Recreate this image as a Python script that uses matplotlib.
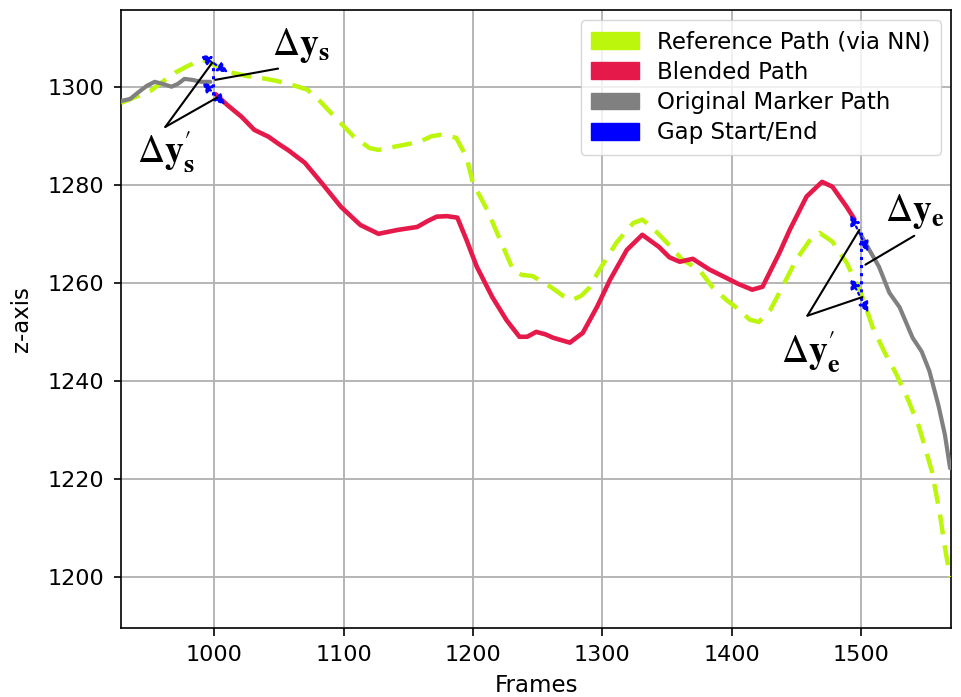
import matplotlib
matplotlib.use("Agg")
import matplotlib.pyplot as plt
from matplotlib.patches import Patch

# ============================================================
# DADOS
# ============================================================

ref_frames = [928, 940, 951, 960, 970, 980, 991, 1000, 1013, 1025, 1036, 1048,
              1060, 1072, 1082, 1093, 1108, 1120, 1127, 1140, 1150, 1159, 1168,
              1175, 1187, 1195, 1200, 1211, 1221, 1231, 1238, 1246, 1253, 1260,
              1270, 1277, 1284, 1290, 1298, 1311, 1324, 1331, 1339, 1350, 1362,
              1375, 1385, 1396, 1406, 1414, 1421, 1430, 1437, 1450, 1460, 1468,
              1478, 1489, 1500, 1509, 1518, 1527, 1536, 1545, 1555, 1561, 1565,
              1569]
ref_values = [1296.7, 1298.0, 1299.2, 1301.0, 1302.9, 1304.3, 1305.5, 1304.5,
              1302.9, 1302.2, 1301.8, 1301.2, 1300.4, 1299.4, 1297.0, 1293.9,
              1289.8, 1287.5, 1287.1, 1287.8, 1288.3, 1288.8, 1289.9, 1290.2,
              1289.6, 1285.7, 1280.4, 1274.9, 1268.8, 1262.7, 1261.6, 1261.4,
              1260.3, 1259.2, 1257.3, 1256.5, 1257.4, 1259.0, 1262.7, 1268.2,
              1272.2, 1272.9, 1271.2, 1268.2, 1264.7, 1262.7, 1259.2, 1256.5,
              1254.5, 1252.5, 1252.0, 1254.5, 1258.0, 1264.7, 1268.5, 1270.2,
              1268.4, 1264.1, 1258.0, 1251.0, 1246.0, 1241.6, 1236.5, 1230.6,
              1221.5, 1213.0, 1206.0, 1200.0]

blend_frames = [1001, 1010, 1021, 1031, 1042, 1050, 1057, 1070, 1083, 1098,
                1113, 1127, 1142, 1157, 1165, 1172, 1180, 1188, 1195, 1203,
                1215, 1226, 1236, 1242, 1249, 1256, 1262, 1275, 1285, 1296,
                1306, 1319, 1331, 1344, 1352, 1360, 1370, 1383, 1396, 1405,
                1416, 1424, 1437, 1445, 1458, 1470, 1478, 1489, 1495]
blend_values = [1298.5, 1296.3, 1293.9, 1291.2, 1289.8, 1288.3, 1287.1, 1284.5,
                1280.4, 1275.5, 1271.8, 1270.0, 1270.8, 1271.4, 1272.6, 1273.5,
                1273.6, 1273.3, 1268.8, 1263.3, 1257.1, 1252.4, 1249.0, 1249.0,
                1250.0, 1249.5, 1248.8, 1247.8, 1249.8, 1255.1, 1260.6, 1266.7,
                1269.8, 1267.3, 1265.2, 1264.3, 1264.9, 1262.7, 1261.0, 1259.8,
                1258.6, 1259.2, 1266.1, 1270.8, 1277.6, 1280.6, 1279.6, 1275.5,
                1273.0]

orig_frames_before = [928, 935, 941, 948, 954, 960, 967, 972, 977, 983, 990, 997]
orig_values_before = [1297.1, 1297.5, 1298.8, 1300.2, 1301.0, 1300.6, 1300.0,
                      1300.6, 1301.6, 1301.4, 1301.0, 1301.0]

orig_frames_after = [1500, 1507, 1514, 1522, 1530, 1540, 1547, 1553, 1560, 1565, 1569]
orig_values_after = [1269.8, 1266.5, 1263.3, 1258.0, 1255.0, 1248.8, 1246.0,
                     1242.0, 1235.0, 1229.0, 1222.2]

# marcadores do gap: frame, topo, base
gap_frames = [999, 1500]
gap_top = [1305.0, 1271.4]
gap_bottom = [1298.4, 1256.5]

# setas duplas (x1, y1, x2, y2)
gap_arrows = [
    (989.2, 1306.5, 1010.8, 1302.9),
    (990.7, 1301.0, 1008.5, 1296.3),
    (1491.9, 1273.9, 1505.8, 1266.3),
    (1491.9, 1261.0, 1505.8, 1253.9),
]

# rótulos: texto, posição do texto, início da linha, alvos
labels_text = [r"$\Delta\mathbf{y}_\mathbf{s}$",
               r"$\Delta\mathbf{y}_\mathbf{s}'$",
               r"$\Delta\mathbf{y}_\mathbf{e}$",
               r"$\Delta\mathbf{y}_\mathbf{e}'$"]
labels_pos = [(1067, 1308.4), (963, 1286.6), (1542, 1274.6), (1461, 1245.8)]
labels_line_start = [(1049.4, 1303.7), (962.2, 1291.8), (1541.3, 1269.6), (1458.7, 1253.3)]
labels_targets = [[(1000.8, 1301.4)],
                  [(998.5, 1304.9), (1002.3, 1297.8)],
                  [(1503.5, 1263.7)],
                  [(1498.8, 1270.8), (1501.2, 1257.1)]]

COR_REF = "#bcf60c"
COR_BLEND = "#e6194b"
COR_ORIG = "#808080"
COR_GAP = "#0000ff"

# ============================================================
# GRÁFICO
# ============================================================

plt.rcParams["mathtext.fontset"] = "stix"

fig = plt.figure(figsize=(9.61, 6.97), dpi=100)
ax = fig.add_axes([0.126, 0.099, 0.864, 0.887])

estilo = dict(solid_joinstyle="round", solid_capstyle="round",
              dash_joinstyle="round")

ax.plot(ref_frames, ref_values, color=COR_REF, lw=3.2,
        dashes=(4.5, 2.5), zorder=3, **estilo)
ax.plot(orig_frames_before, orig_values_before, color=COR_ORIG, lw=3,
        zorder=4, **estilo)
ax.plot(orig_frames_after, orig_values_after, color=COR_ORIG, lw=3,
        zorder=4, **estilo)
ax.plot(blend_frames, blend_values, color=COR_BLEND, lw=3.3, zorder=5,
        **estilo)

ax.vlines(gap_frames, gap_bottom, gap_top, colors=COR_GAP,
          linestyles=":", lw=2.2, zorder=6)

for x1, y1, x2, y2 in gap_arrows:
    ax.annotate(
        "",
        xy=(x1, y1),
        xytext=(x2, y2),
        arrowprops=dict(arrowstyle="<|-|>", color=COR_GAP, lw=1.6,
                        linestyle=":", mutation_scale=15,
                        shrinkA=0, shrinkB=0),
        zorder=7
    )

for texto, pos, inicio, alvos in zip(labels_text, labels_pos,
                                     labels_line_start, labels_targets):
    ax.text(pos[0], pos[1], texto, fontsize=27, ha="center", va="center",
            zorder=8)
    for alvo in alvos:
        ax.annotate(
            "",
            xy=alvo,
            xytext=inicio,
            arrowprops=dict(arrowstyle="-", color="black", lw=1.5,
                            shrinkA=0, shrinkB=0),
            zorder=8
        )

ax.set_xlim(928, 1570)
ax.set_ylim(1189.6, 1315.7)
ax.set_xticks([1000, 1100, 1200, 1300, 1400, 1500])
ax.set_yticks([1200, 1220, 1240, 1260, 1280, 1300])
ax.tick_params(labelsize=16, length=5.4, width=1.2, pad=7)

ax.grid(True, color="#b0b0b0", lw=1.3)
ax.set_axisbelow(True)
for spine in ax.spines.values():
    spine.set_linewidth(1.2)

ax.set_xlabel("Frames", fontsize=16.5, labelpad=6)
ax.set_ylabel("z-axis", fontsize=16.5, labelpad=10)

handles = [
    Patch(color=COR_REF, label="Reference Path (via NN)"),
    Patch(color=COR_BLEND, label="Blended Path"),
    Patch(color=COR_ORIG, label="Original Marker Path"),
    Patch(color=COR_GAP, label="Gap Start/End"),
]
ax.legend(handles=handles, loc="upper right", fontsize=16.5,
          handlelength=2.1, handleheight=0.75, borderpad=0.45,
          labelspacing=0.32, handletextpad=0.8, borderaxespad=0.45)

plt.savefig("out.png", dpi=100)
plt.close()
